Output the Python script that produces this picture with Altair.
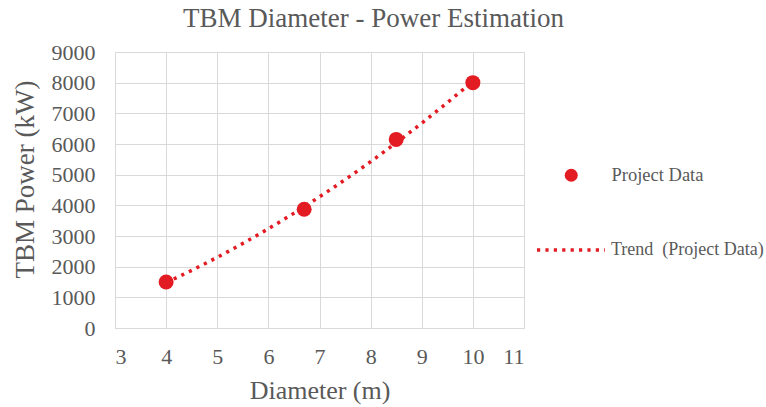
import altair as alt
import pandas as pd

# TBM diameter (m) vs installed power (kW)
diameters = [4.0, 6.7, 8.5, 10.0]
powers = [1500, 3870, 6150, 8000]
series_name = "Project Data"
trend_name = "Trend\u00a0 (Project Data)"

x_ticks = [3, 4, 5, 6, 7, 8, 9, 10, 11]
y_ticks = [0, 1000, 2000, 3000, 4000, 5000, 6000, 7000, 8000, 9000]

RED = "#E31B23"
TEXT = "#595959"
GRID = "#D9D9D9"
FONT = "Liberation Serif"

df = pd.DataFrame({"d": diameters, "p": powers, "series": [series_name] * len(diameters)})

x_enc = alt.X(
    "d:Q",
    scale=alt.Scale(domain=[3, 11], nice=False, zero=False),
    axis=alt.Axis(
        values=x_ticks, title="Diameter (m)", labelPadding=18,
        titleY=70, titleBaseline="alphabetic", titleFontSize=26,
    ),
)
y_enc = alt.Y(
    "p:Q",
    scale=alt.Scale(domain=[0, 9000], nice=False),
    axis=alt.Axis(
        values=y_ticks, format="d", title="TBM Power (kW)", labelPadding=20,
        titleX=-90, titleY=127, titleBaseline="middle", titleAngle=270,
        titleFontSize=27,
    ),
)

base = alt.Chart(df)

# second-order polynomial trend through the project points
trend = (
    base.transform_regression("d", "p", method="poly", order=2)
    .transform_calculate(trend=f"'{trend_name}'")
    .mark_line(color=RED, strokeWidth=3.5, strokeCap="butt")
    .encode(
        x=x_enc,
        y=y_enc,
        strokeDash=alt.StrokeDash(
            "trend:N",
            scale=alt.Scale(domain=[trend_name], range=[[3.2, 5.2]]),
            legend=alt.Legend(
                title=None, orient="none", legendX=420, legendY=162,
                symbolType="stroke", symbolSize=4624, symbolStrokeWidth=3.5,
                symbolStrokeColor=RED, symbolOpacity=1,
                labelOffset=4, labelFont=FONT, labelFontSize=18, labelColor=TEXT,
                padding=0,
            ),
        ),
    )
)

points = base.mark_circle(size=225, opacity=1).encode(
    x=x_enc,
    y=y_enc,
    color=alt.Color(
        "series:N",
        scale=alt.Scale(domain=[series_name], range=[RED]),
        legend=alt.Legend(
            title=None, orient="none", legendX=447, legendY=114,
            symbolType="circle", symbolSize=169, symbolOpacity=1,
            labelOffset=31, labelFont=FONT, labelFontSize=18.5, labelColor=TEXT,
            padding=0,
        ),
    ),
)

chart = (
    alt.layer(trend, points)
    .resolve_legend(color="independent", strokeDash="independent")
    .properties(
        width=409,
        height=276,
        title=alt.TitleParams(
            "TBM Diameter - Power Estimation", font=FONT, fontSize=27,
            fontWeight="normal", color=TEXT, anchor="middle", dx=54, offset=8,
        ),
        autosize=alt.AutoSizeParams(type="none"),
        padding={"left": 115, "top": 52, "right": 242, "bottom": 79},
    )
    .configure_view(stroke=None)
    .configure_axis(
        grid=True, gridColor=GRID, gridWidth=1,
        domainColor=GRID, domainWidth=1, ticks=False,
        labelFont=FONT, labelFontSize=22, labelColor=TEXT,
        titleFont=FONT, titleColor=TEXT, titleFontWeight="normal",
    )
)

chart.save("out.html", embed_options={"renderer": "svg", "actions": False})
